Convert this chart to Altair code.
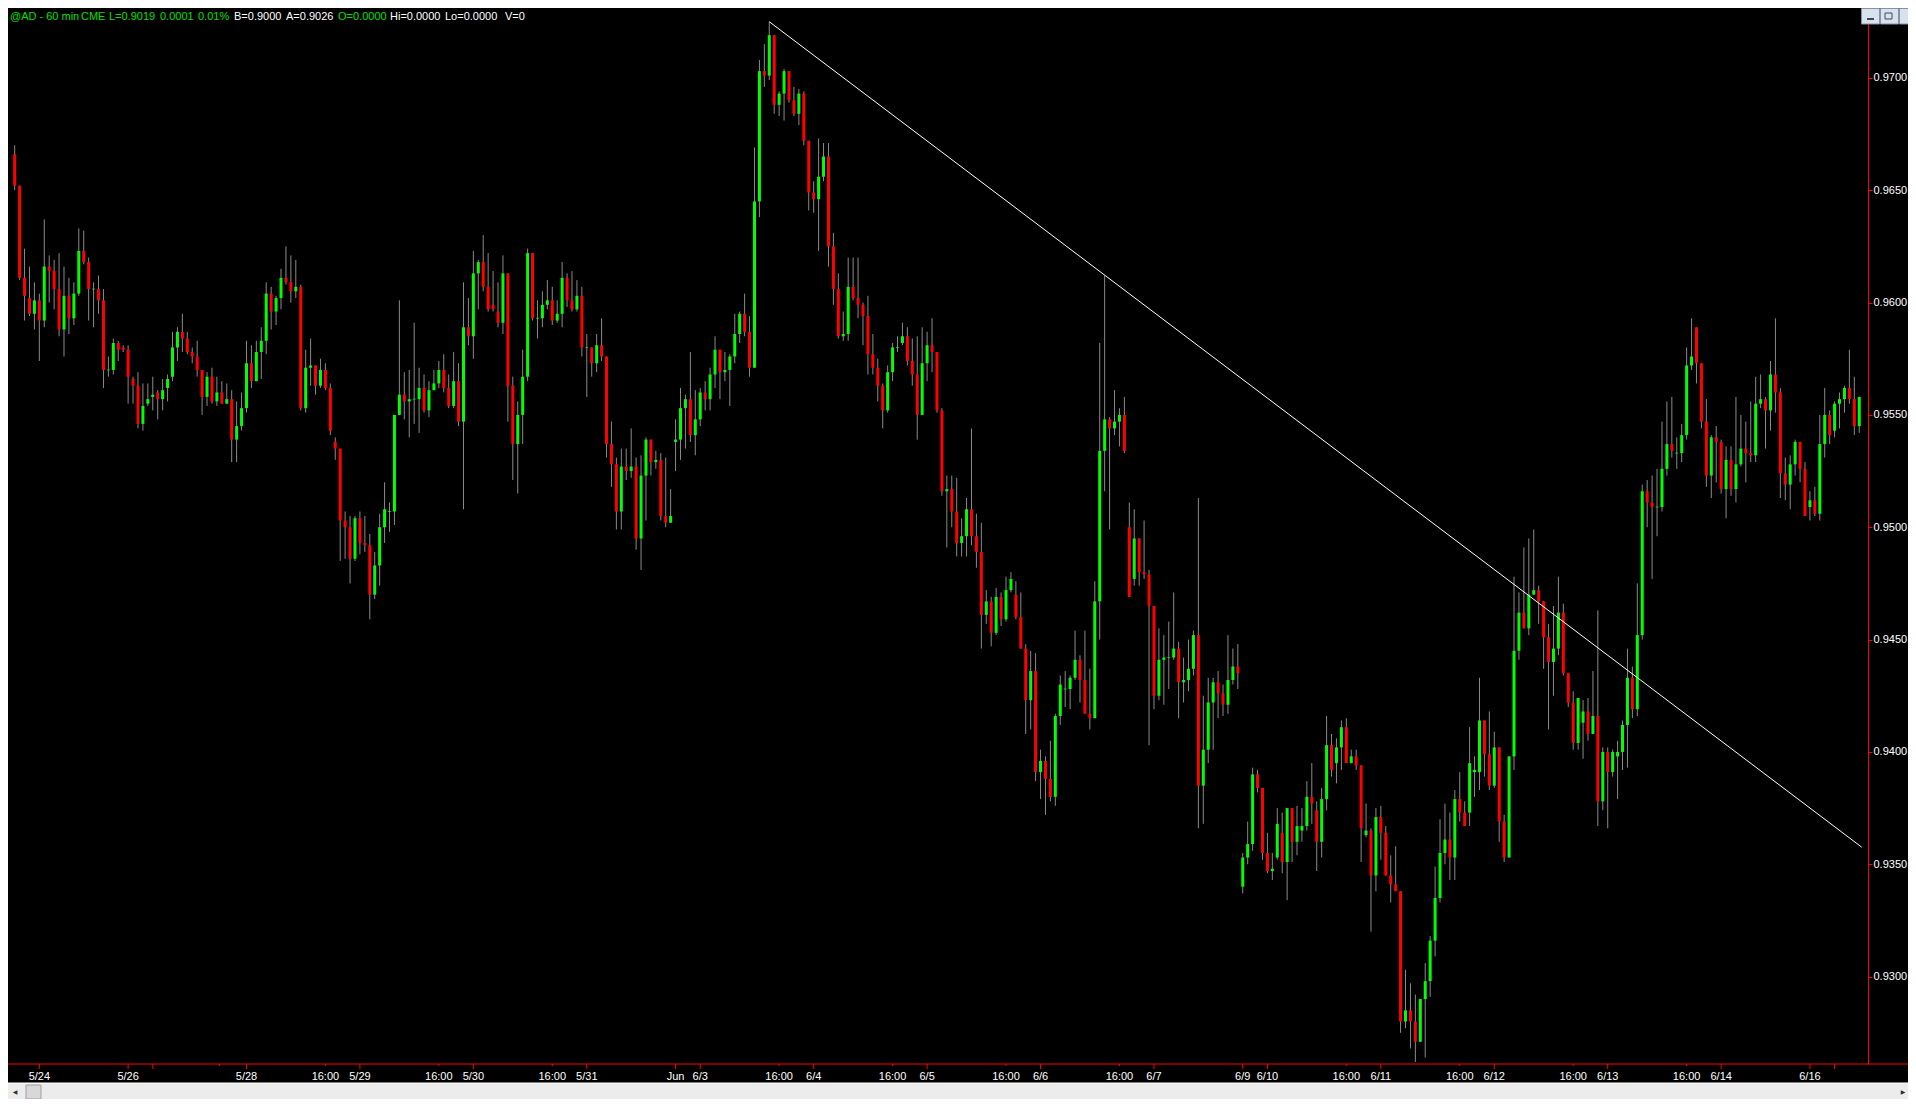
import altair as alt
import pandas as pd

# ---------------- data (prices in ten-thousandths, AUD/USD futures, 60-min bars) ----------------
open_p = [
    9666,9652,9611,9602,9595,9601,9592,9616,9614,9606,
    9588,9603,9593,9604,9623,9618,9606,9606,9601,9570,
    9570,9582,9580,9579,9566,9563,9546,9555,9558,9560,
    9557,9562,9567,9580,9587,9584,9578,9576,9570,9558,
    9567,9556,9560,9555,9557,9539,9545,9553,9573,9565,
    9578,9583,9604,9596,9602,9611,9609,9605,9607,9553,
    9571,9572,9563,9570,9562,9538,9535,9503,9500,9486,
    9504,9493,9492,9470,9483,9500,9507,9507,9550,9559,
    9556,9557,9557,9562,9552,9561,9564,9570,9562,9554,
    9565,9547,9589,9585,9613,9618,9607,9599,9596,9591,
    9613,9563,9537,9550,9567,9622,9593,9593,9599,9601,
    9592,9595,9611,9601,9597,9603,9580,9580,9573,9581,
    9576,9537,9528,9507,9527,9525,9527,9495,9523,9539,
    9529,9530,9505,9502,9538,9539,9553,9557,9541,9548,
    9560,9557,9568,9579,9569,9570,9576,9586,9595,9587,
    9571,9645,9703,9701,9719,9688,9693,9703,9690,9684,
    9693,9672,9649,9646,9656,9665,9625,9606,9585,9586,
    9607,9602,9599,9594,9577,9571,9563,9552,9569,9580,
    9582,9585,9574,9568,9550,9573,9581,9578,9552,9516,
    9517,9507,9493,9496,9508,9496,9489,9461,9467,9453,
    9469,9459,9472,9470,9460,9446,9423,9436,9391,9396,
    9388,9380,9416,9428,9428,9433,9441,9432,9417,9415,
    9467,9534,9548,9544,9547,9550,9500,9477,9495,9480,
    9479,9465,9425,9441,9442,9442,9446,9431,9432,9437,
    9452,9385,9401,9422,9431,9426,9421,9432,9438,9340,
    9353,9359,9390,9384,9355,9347,9353,9364,9351,9375,
    9360,9365,9367,9380,9374,9360,9379,9403,9395,9402,
    9411,9395,9398,9394,9363,9365,9345,9371,9364,9345,
    9341,9338,9280,9285,9280,9271,9290,9298,9316,9335,
    9355,9361,9353,9379,9373,9373,9391,9391,9414,9399,
    9385,9402,9369,9353,9398,9445,9462,9455,9470,9472,
    9467,9451,9440,9446,9462,9435,9422,9404,9413,9418,
    9408,9416,9378,9400,9391,9398,9400,9412,9433,9419,
    9452,9516,9511,9509,9509,9526,9537,9533,9533,9541,
    9572,9589,9573,9547,9523,9540,9538,9517,9530,9517,
    9528,9535,9533,9532,9555,9557,9552,9568,9560,9524,
    9519,9528,9538,9526,9509,9512,9506,9537,9550,9543,
    9555,9557,9562,9557,9545,
]
high_p = [
    9670,9652,9624,9616,9609,9604,9637,9621,9619,9622,
    9616,9611,9609,9633,9632,9620,9609,9612,9606,9576,
    9584,9583,9581,9581,9567,9569,9564,9564,9567,9561,
    9566,9568,9587,9589,9595,9587,9580,9583,9570,9569,
    9571,9567,9565,9564,9561,9556,9560,9583,9581,9583,
    9589,9609,9607,9603,9615,9625,9621,9619,9608,9579,
    9584,9572,9575,9573,9564,9540,9535,9507,9505,9505,
    9507,9505,9497,9489,9506,9520,9511,9550,9601,9569,
    9570,9591,9571,9568,9565,9570,9574,9577,9568,9578,
    9573,9609,9602,9623,9619,9630,9622,9614,9609,9621,
    9613,9567,9556,9579,9624,9622,9601,9605,9610,9607,
    9601,9618,9613,9614,9610,9607,9586,9580,9586,9593,
    9576,9547,9531,9535,9535,9544,9531,9532,9540,9539,
    9534,9533,9531,9517,9548,9562,9559,9578,9561,9562,
    9565,9571,9585,9579,9578,9577,9595,9596,9604,9594,
    9669,9708,9715,9725,9719,9694,9704,9703,9696,9695,
    9694,9672,9654,9673,9671,9671,9631,9613,9596,9620,
    9620,9620,9600,9603,9586,9575,9564,9572,9582,9585,
    9591,9589,9584,9585,9589,9587,9593,9578,9553,9523,
    9523,9522,9504,9513,9544,9506,9502,9472,9469,9473,
    9471,9478,9480,9476,9471,9448,9445,9444,9401,9398,
    9405,9417,9434,9436,9434,9454,9443,9454,9437,9476,
    9582,9612,9549,9561,9553,9558,9511,9508,9495,9503,
    9481,9465,9455,9452,9458,9471,9449,9442,9450,9454,
    9513,9425,9433,9433,9436,9430,9452,9446,9448,9355,
    9369,9393,9392,9384,9364,9355,9375,9373,9375,9375,
    9376,9375,9387,9395,9378,9384,9416,9408,9406,9414,
    9415,9401,9401,9394,9377,9366,9375,9376,9367,9354,
    9358,9338,9303,9297,9292,9290,9306,9318,9349,9370,
    9377,9373,9383,9391,9378,9411,9398,9433,9414,9418,
    9409,9402,9372,9398,9478,9471,9491,9495,9499,9474,
    9467,9457,9465,9478,9466,9435,9427,9424,9423,9424,
    9436,9463,9402,9402,9401,9405,9414,9446,9438,9475,
    9519,9521,9523,9526,9547,9556,9558,9540,9546,9580,
    9593,9589,9573,9557,9541,9545,9539,9536,9536,9558,
    9550,9547,9556,9567,9568,9558,9574,9593,9562,9531,
    9532,9539,9538,9529,9516,9518,9550,9562,9552,9556,
    9560,9563,9579,9567,9558,
]
low_p = [
    9650,9610,9592,9594,9588,9574,9589,9600,9597,9585,
    9576,9586,9590,9603,9617,9592,9589,9595,9562,9567,
    9568,9574,9578,9555,9555,9544,9543,9554,9552,9548,
    9552,9556,9565,9574,9578,9577,9573,9567,9550,9554,
    9555,9554,9555,9555,9529,9529,9543,9551,9562,9565,
    9566,9577,9588,9590,9597,9608,9600,9602,9552,9551,
    9563,9559,9562,9561,9541,9530,9485,9486,9475,9485,
    9488,9489,9459,9468,9474,9493,9498,9501,9550,9548,
    9540,9546,9542,9551,9549,9561,9562,9560,9553,9553,
    9545,9508,9581,9575,9597,9605,9596,9596,9589,9586,
    9547,9521,9515,9537,9565,9592,9584,9589,9597,9590,
    9591,9589,9598,9596,9596,9576,9558,9567,9569,9574,
    9531,9518,9499,9499,9521,9522,9490,9481,9503,9523,
    9526,9503,9500,9502,9525,9530,9535,9538,9532,9545,
    9552,9552,9562,9557,9565,9554,9573,9582,9585,9567,
    9571,9638,9696,9699,9684,9683,9681,9689,9683,9679,
    9670,9641,9640,9623,9654,9616,9599,9584,9583,9583,
    9601,9593,9581,9568,9568,9556,9544,9551,9565,9578,
    9581,9572,9563,9539,9550,9565,9569,9551,9514,9491,
    9500,9487,9487,9487,9492,9482,9446,9457,9447,9452,
    9456,9458,9471,9459,9446,9408,9410,9387,9379,9372,
    9378,9376,9412,9420,9419,9432,9422,9417,9410,9415,
    9450,9516,9499,9541,9536,9533,9469,9474,9474,9477,
    9403,9419,9423,9421,9428,9441,9415,9422,9427,9434,
    9366,9368,9395,9401,9415,9416,9417,9430,9428,9337,
    9350,9356,9382,9352,9346,9343,9352,9346,9334,9351,
    9354,9360,9365,9368,9347,9353,9374,9389,9386,9392,
    9395,9395,9392,9351,9362,9320,9338,9352,9345,9333,
    9338,9275,9277,9268,9262,9271,9264,9291,9309,9333,
    9350,9343,9343,9369,9367,9367,9380,9383,9389,9383,
    9384,9360,9351,9353,9392,9441,9455,9452,9470,9457,
    9437,9410,9425,9443,9434,9420,9401,9401,9397,9405,
    9408,9367,9374,9366,9389,9379,9392,9393,9415,9416,
    9450,9500,9477,9496,9507,9523,9531,9526,9529,9539,
    9570,9564,9544,9518,9513,9520,9515,9504,9514,9511,
    9527,9520,9529,9529,9553,9535,9543,9551,9513,9512,
    9508,9523,9520,9505,9503,9505,9503,9531,9537,9540,
    9544,9551,9555,9541,9542,
]
close_p = [
    9652,9611,9603,9595,9601,9592,9616,9614,9606,9588,
    9603,9593,9604,9623,9618,9606,9606,9601,9570,9570,
    9582,9579,9579,9567,9563,9546,9554,9557,9559,9557,
    9561,9566,9580,9587,9584,9578,9576,9570,9558,9567,
    9556,9560,9555,9557,9539,9545,9553,9573,9565,9578,
    9583,9604,9596,9602,9611,9609,9605,9607,9553,9571,
    9572,9563,9570,9562,9543,9535,9503,9500,9486,9504,
    9493,9492,9470,9483,9500,9508,9507,9550,9559,9556,
    9557,9557,9562,9552,9561,9564,9570,9562,9554,9565,
    9547,9589,9585,9613,9618,9607,9597,9597,9591,9613,
    9563,9537,9550,9567,9622,9593,9593,9599,9601,9592,
    9595,9611,9601,9597,9603,9580,9580,9573,9581,9576,
    9537,9528,9507,9527,9525,9527,9495,9523,9539,9529,
    9530,9505,9502,9505,9539,9553,9557,9541,9548,9560,
    9557,9568,9579,9569,9570,9576,9586,9595,9587,9571,
    9645,9703,9701,9719,9688,9693,9703,9690,9684,9693,
    9672,9649,9646,9656,9665,9625,9606,9585,9586,9607,
    9602,9599,9594,9577,9571,9563,9552,9569,9580,9580,
    9585,9574,9568,9550,9573,9581,9578,9552,9516,9517,
    9507,9493,9496,9508,9496,9489,9461,9467,9453,9469,
    9459,9472,9477,9460,9446,9423,9436,9391,9396,9388,
    9380,9416,9430,9428,9433,9441,9432,9417,9415,9467,
    9534,9548,9544,9547,9550,9534,9469,9495,9480,9479,
    9465,9425,9441,9442,9442,9446,9431,9432,9437,9452,
    9385,9401,9422,9431,9426,9421,9432,9438,9435,9353,
    9359,9390,9384,9355,9347,9348,9368,9351,9375,9360,
    9367,9367,9380,9377,9360,9379,9403,9392,9402,9411,
    9395,9398,9394,9366,9365,9345,9371,9364,9345,9341,
    9338,9280,9285,9280,9271,9290,9298,9316,9335,9355,
    9361,9353,9379,9373,9367,9395,9392,9414,9399,9385,
    9402,9369,9353,9398,9445,9462,9455,9470,9472,9467,
    9451,9440,9446,9462,9435,9422,9404,9424,9418,9408,
    9416,9378,9400,9391,9400,9400,9412,9433,9419,9452,
    9516,9511,9509,9509,9526,9537,9534,9533,9541,9572,
    9576,9573,9547,9523,9540,9538,9517,9530,9517,9528,
    9535,9533,9532,9555,9557,9552,9568,9560,9524,9519,
    9528,9538,9526,9505,9512,9506,9537,9550,9541,9555,
    9557,9562,9557,9545,9558,
]

# time-axis marks (bar index -> label)
tick_idx = [5, 23, 28, 41.5, 47, 63, 70, 86, 93, 109, 116, 134, 139, 155, 162, 178,
            185, 201, 208, 224, 231, 249, 254, 270, 277, 293, 300, 316, 323, 339, 346, 364, 369]
tick_text = ["5/24", "5/26", "", "", "5/28", "16:00", "5/29", "16:00", "5/30", "16:00", "5/31",
             "Jun", "6/3", "16:00", "6/4", "16:00", "6/5", "16:00", "6/6", "16:00", "6/7",
             "6/9", "6/10", "16:00", "6/11", "16:00", "6/12", "16:00", "6/13", "16:00", "6/14",
             "6/16", ""]
tick_kind = ["long", "long", "long", "short", "long", "short", "long", "short", "long", "short",
             "long", "long", "long", "short", "long", "short", "long", "short", "long", "short",
             "long", "long", "long", "short", "long", "short", "long", "short", "long", "short",
             "long", "long", "long"]

price_ticks = [0.9300, 0.9350, 0.9400, 0.9450, 0.9500, 0.9550, 0.9600, 0.9650, 0.9700]

# drawn trend line (from the 6/3 high down to the right edge)
trend_idx = [153, 374.5]
trend_price = [0.9725, 0.93576]

header_text = ["@AD - 60 min", "CME", "L=0.9019", "0.0001", "0.01%", "B=0.9000", "A=0.9026",
               "O=0.0000", "Hi=0.0000", "Lo=0.0000", "V=0"]
header_color = ["#00E000", "#00E000", "#00E000", "#00E000", "#00E000", "#FFFFFF", "#FFFFFF",
                "#00E000", "#FFFFFF", "#FFFFFF", "#FFFFFF"]
header_x = [2, 73, 101, 152, 190, 226, 278, 330, 382, 437, 497]   # layout (px)

# ---------------- layout ----------------
W, H = 1860, 1056
PAD_R, PAD_B = 40, 35
FONT = "Liberation Sans"

df = pd.DataFrame({
    "idx": list(range(len(close_p))),
    "open": [v / 10000 for v in open_p],
    "high": [v / 10000 for v in high_p],
    "low": [v / 10000 for v in low_p],
    "close": [v / 10000 for v in close_p],
})
df["dir"] = ["up" if c >= o else "down" for o, c in zip(df["open"], df["close"])]

ticks = pd.DataFrame({"idx": tick_idx, "label": tick_text, "kind": tick_kind})
trend = pd.DataFrame({"idx": trend_idx, "price": trend_price})
header = pd.DataFrame({"t": header_text, "c": header_color, "hx": header_x})
one = pd.DataFrame({"a": [0]})

xs = alt.Scale(domain=[-0.34, 374.76], nice=False, zero=False)
ys = alt.Scale(domain=[0.92611, 0.97311], nice=False, zero=False)
yax = alt.Axis(orient="right", values=price_ticks, format=".4f", title=None, grid=False,
               domainColor="#FF0000", tickColor="#FF0000", tickSize=4, domainWidth=1,
               labelColor="#FFFFFF", labelFont=FONT, labelFontSize=11, labelPadding=1,
               labelOverlap=False, labelFlush=False)
X = alt.X("idx:Q", scale=xs, axis=None)
col = alt.Color("dir:N", scale=alt.Scale(domain=["up", "down"], range=["#00FF00", "#FF0000"]),
                legend=None)

base = alt.Chart(df)
wicks = base.mark_rule(color="#8A8A8A", strokeWidth=1).encode(
    x=X, y=alt.Y("low:Q", scale=ys, axis=yax), y2="high:Q")
bodies = base.mark_bar(size=3).encode(
    x=X, y=alt.Y("open:Q", scale=ys, axis=yax), y2="close:Q", color=col)
doji = base.transform_filter("datum.open == datum.close").mark_tick(
    orient="horizontal", size=3, thickness=1).encode(
    x=X, y=alt.Y("close:Q", scale=ys, axis=yax), color=col)

trend_line = alt.Chart(trend).mark_line(color="#FFFFFF", strokeWidth=1).encode(
    x=X, y=alt.Y("price:Q", scale=ys, axis=yax))

bottom_line = alt.Chart(one).mark_rule(color="#FF0000", strokeWidth=1).encode(
    x=alt.value(0), x2=alt.value(W + PAD_R), y=alt.value(H))

long_ticks = alt.Chart(ticks).transform_filter("datum.kind == 'long'").mark_rule(
    color="#FF0000").encode(x=X, y=alt.value(H), y2=alt.value(H + 5))
short_ticks = alt.Chart(ticks).transform_filter("datum.kind == 'short'").mark_rule(
    color="#FF0000").encode(x=X, y=alt.value(H), y2=alt.value(H + 2))
tick_labels = alt.Chart(ticks).mark_text(
    color="#FFFFFF", font=FONT, fontSize=11, align="center", baseline="alphabetic").encode(
    x=X, y=alt.value(H + 16), text="label:N")

scroll_bg = alt.Chart(one).mark_rect(color="#ECECEC").encode(
    x=alt.value(0), x2=alt.value(W + PAD_R), y=alt.value(H + 19), y2=alt.value(H + 36))
scroll_top = alt.Chart(one).mark_rule(color="#FFFFFF").encode(
    x=alt.value(0), x2=alt.value(W + PAD_R), y=alt.value(H + 19))
scroll_thumb = alt.Chart(one).mark_rect(color="#D8D8D8", stroke="#A0A0A0", strokeWidth=1).encode(
    x=alt.value(18), x2=alt.value(33), y=alt.value(H + 21), y2=alt.value(H + 35))
arrow_l = alt.Chart(one).mark_text(text="◀", fontSize=6, color="#303030", font="DejaVu Sans").encode(
    x=alt.value(7), y=alt.value(H + 28))
arrow_r = alt.Chart(one).mark_text(text="▶", fontSize=6, color="#303030", font="DejaVu Sans").encode(
    x=alt.value(W + PAD_R - 5), y=alt.value(H + 28))

btns = []
for x0, x1 in [(1853.5, 1871.5), (1872.5, 1890.5), (1891.5, 1902)]:
    btns.append(alt.Chart(one).mark_rect(color="#D9E1EC", stroke="#8393AA", strokeWidth=1).encode(
        x=alt.value(x0), x2=alt.value(x1), y=alt.value(0.5), y2=alt.value(16)))
btn_min = alt.Chart(one).mark_rule(color="#404858", strokeWidth=2).encode(
    x=alt.value(1859), x2=alt.value(1866), y=alt.value(11))
btn_res = alt.Chart(one).mark_rect(fill="transparent", stroke="#404858", strokeWidth=1).encode(
    x=alt.value(1877), x2=alt.value(1884), y=alt.value(5), y2=alt.value(11))

head = alt.Chart(header).mark_text(font=FONT, fontSize=11, align="left", baseline="alphabetic").encode(
    x=alt.X("hx:Q", scale=None, axis=None), y=alt.value(11.5), text="t:N",
    color=alt.Color("c:N", scale=None))

chart = alt.layer(
    wicks, bodies, doji, trend_line, bottom_line, long_ticks, short_ticks, tick_labels,
    scroll_bg, scroll_top, scroll_thumb, arrow_l, arrow_r, *btns, btn_min, btn_res, head
).properties(
    width=W, height=H,
    autosize=alt.AutoSizeParams(type="none"),
    padding={"left": 0, "top": 0, "right": PAD_R, "bottom": PAD_B},
).configure(background="#000000").configure_view(strokeWidth=0)

chart.save("out.html", embed_options={"renderer": "svg", "actions": False})
